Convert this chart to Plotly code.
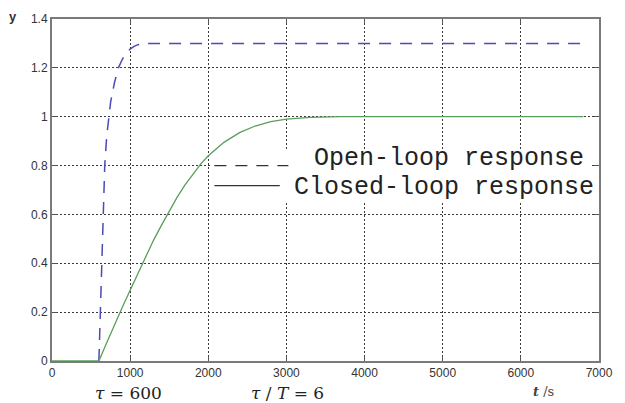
import plotly.graph_objects as go

# ---- data ----
t_closed = [0, 600, 700, 800, 900, 1000, 1100, 1200, 1300, 1400, 1500, 1600, 1700,
            1800, 1900, 2000, 2200, 2400, 2600, 2800, 3000, 3300, 3700, 4500, 6800]
y_closed = [0, 0, 0.075, 0.15, 0.22, 0.29, 0.36, 0.43, 0.495, 0.555, 0.615, 0.67, 0.72,
            0.765, 0.805, 0.84, 0.895, 0.935, 0.962, 0.98, 0.99, 0.997, 1.0, 1.0, 1.0]

t_open = [600, 620, 650, 675, 700, 725, 750, 800, 850, 900, 950, 1000, 1050, 1100, 1200, 6800]
y_open = [0, 0.22, 0.6, 0.8, 0.92, 1.0, 1.06, 1.14, 1.2, 1.235, 1.26, 1.277, 1.288, 1.295, 1.3, 1.3]

x_ticks = [0, 1000, 2000, 3000, 4000, 5000, 6000, 7000]
x_tick_labels = ["0", "1000", "2000", "3000", "4000", "5000", "6000", "7000"]
y_ticks = [0, 0.2, 0.4, 0.6, 0.8, 1.0, 1.2, 1.4]
y_tick_labels = ["0", "0.2", "0.4", "0.6", "0.8", "1", "1.2", "1.4"]

legend_labels = ["Open-loop response", "Closed-loop response"]

fig = go.Figure()
fig.add_trace(go.Scatter(x=t_open, y=y_open, mode="lines", name=legend_labels[0],
                         line=dict(color="#4a4ab8", width=1.5, dash="12px,9px"),
                         showlegend=False))
fig.add_trace(go.Scatter(x=t_closed, y=y_closed, mode="lines", name=legend_labels[1],
                         line=dict(color="#5a9e5a", width=1.3),
                         showlegend=False))

axis_common = dict(
    showline=True, linecolor="#7a7a7a", linewidth=2, mirror="ticks",
    ticks="inside", ticklen=5, tickwidth=1, tickcolor="#555",
    showgrid=True, gridcolor="#3a3a3a", gridwidth=1, griddash="2px,2px",
    zeroline=False,
    tickfont=dict(family="Liberation Sans, Arial, sans-serif", size=12, color="#333"),
)

fig.update_xaxes(range=[0, 7000], tickvals=x_ticks, ticktext=x_tick_labels, **axis_common)
fig.update_yaxes(range=[0, 1.4], tickvals=y_ticks, ticktext=y_tick_labels, **axis_common)

# custom legend box (MATLAB style, white box without border)
fig.add_shape(type="rect", xref="x", yref="y", x0=2025, x1=6900, y0=0.648, y1=0.863,
              fillcolor="white", line=dict(width=0), layer="between")
fig.add_shape(type="line", xref="x", yref="y", x0=2078, x1=3025, y0=0.80, y1=0.80,
              line=dict(color="#333", width=1.2, dash="12px,9px"), layer="above")
fig.add_shape(type="line", xref="x", yref="y", x0=2078, x1=2915, y0=0.718, y1=0.718,
              line=dict(color="#333", width=1.2), layer="above")

mono = dict(family="Liberation Mono, Courier New, monospace", size=25, color="#222")
fig.add_annotation(x=0.475, y=0.8275, xref="paper", yref="y", text=legend_labels[0],
                   showarrow=False, xanchor="left", yanchor="middle", font=mono)
fig.add_annotation(x=0.439, y=0.7105, xref="paper", yref="y", text=legend_labels[1],
                   showarrow=False, xanchor="left", yanchor="middle", font=mono)

serif = dict(family="DejaVu Serif, serif", size=17, color="#222")
fig.add_annotation(x=0.1405, y=-0.095, xref="paper", yref="paper",
                   text="<i>τ</i> = 600", showarrow=False, font=serif,
                   xanchor="center", yanchor="middle")
fig.add_annotation(x=0.43, y=-0.095, xref="paper", yref="paper",
                   text="<i>τ</i> / <i>T</i> = 6", showarrow=False, font=serif,
                   xanchor="center", yanchor="middle")
fig.add_annotation(x=0.898, y=-0.089, xref="paper", yref="paper",
                   text="<b><i>t</i></b> /s", showarrow=False,
                   xanchor="center", yanchor="middle",
                   font=dict(family="DejaVu Serif, serif", size=13, color="#444"))
fig.add_annotation(x=-0.072, y=1.008, xref="paper", yref="paper",
                   text="<b>y</b>", showarrow=False, xanchor="center", yanchor="middle",
                   font=dict(family="Liberation Sans, Arial, sans-serif", size=13, color="#333"))

fig.update_layout(
    width=625, height=403,
    margin=dict(l=52, r=18, t=13, b=42),
    paper_bgcolor="white", plot_bgcolor="white",
    showlegend=False,
)

fig.write_html("out.html")
